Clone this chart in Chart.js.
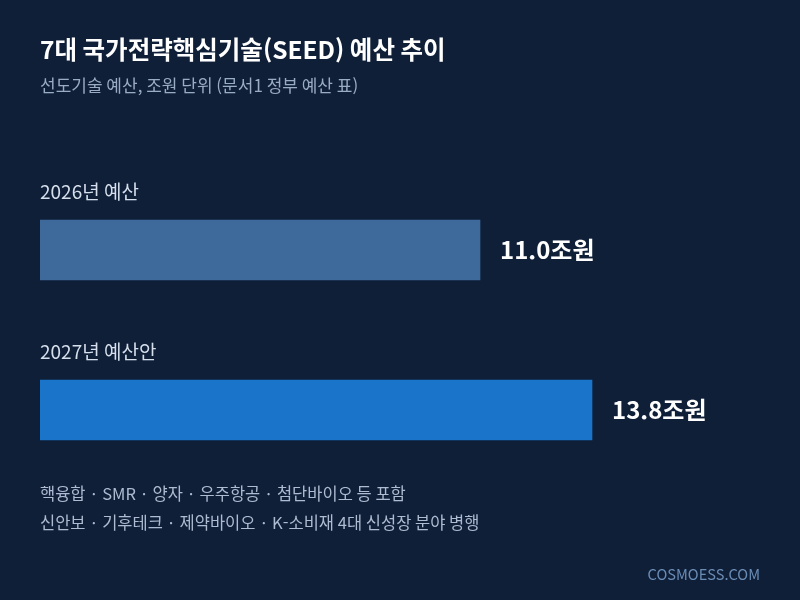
<!DOCTYPE html>
<html lang="ko">
  <head>
    <meta charset="UTF-8" />
    <title>SEED 예산 추이</title>
    <script src="https://cdn.jsdelivr.net/npm/chart.js"></script>
    <style>
      html, body { margin: 0; padding: 0; background: #0f1f38; }
      #wrap { width: 800px; height: 600px; }
    </style>
  </head>
  <body>
    <div id="wrap"><canvas id="myChart" width="800" height="600"></canvas></div>
    <script>
// 데이터
const categories = ["2026년 예산", "2027년 예산안"];
const budgets = [11.0, 13.8];
const valueLabels = ["11.0조원", "13.8조원"];
const barColors = ["#3d6a9a", "#1a74c9"];

const title = "7대 국가전략핵심기술(SEED) 예산 추이";
const subtitle = "선도기술 예산, 조원 단위 (문서1 정부 예산 표)";
const notes = [
  "핵융합 · SMR · 양자 · 우주항공 · 첨단바이오 등 포함",
  "신안보 · 기후테크 · 제약바이오 · K-소비재 4대 신성장 분야 병행"
];
const source = "COSMOESS.COM";

const FONT = "'Noto Sans CJK KR', 'Noto Sans', sans-serif";

// 텍스트 그리기 플러그인
const textPlugin = {
  id: "texts",
  beforeDraw(chart) {
    const c = chart.ctx;
    c.save();
    c.fillStyle = "#0f1f38";
    c.fillRect(0, 0, chart.width, chart.height);
    c.restore();
  },
  afterDatasetsDraw(chart) {
    const c = chart.ctx;
    const x = chart.scales.x;
    const y = chart.scales.y;
    c.save();
    c.textBaseline = "middle";
    c.textAlign = "left";

    c.fillStyle = "#ffffff";
    c.font = "bold 24.5px " + FONT;
    c.fillText(title, 40, 50);

    c.fillStyle = "#9aabc4";
    c.font = "17px " + FONT;
    c.fillText(subtitle, 40, 86);

    categories.forEach((cat, i) => {
      const cy = y.getPixelForValue(i);
      c.fillStyle = "#d6dfec";
      c.font = "19px " + FONT;
      c.fillText(cat, 40, cy - 58);

      c.fillStyle = "#ffffff";
      c.font = "bold 24px " + FONT;
      c.fillText(valueLabels[i], x.getPixelForValue(budgets[i]) + 20, cy);
    });

    c.fillStyle = "#aebbd0";
    c.font = "16.5px " + FONT;
    notes.forEach((n, i) => c.fillText(n, 40, 494 + i * 29));

    c.fillStyle = "#6a8cb5";
    c.font = "14.6px " + FONT;
    c.textAlign = "right";
    c.fillText(source, 760, 574);
    c.restore();
  }
};

new Chart(document.getElementById("myChart"), {
  type: "bar",
  data: {
    labels: categories,
    datasets: [{
      data: budgets,
      backgroundColor: barColors,
      barThickness: 60,
      borderWidth: 0
    }]
  },
  options: {
    indexAxis: "y",
    responsive: false,
    animation: false,
    layout: { padding: { left: 40, right: 160, top: 170, bottom: 110 } },
    scales: {
      x: { display: false, min: 0, max: 15 },
      y: { display: false }
    },
    plugins: {
      legend: { display: false },
      tooltip: { enabled: false }
    }
  },
  plugins: [textPlugin]
});
</script>
  </body>
</html>
